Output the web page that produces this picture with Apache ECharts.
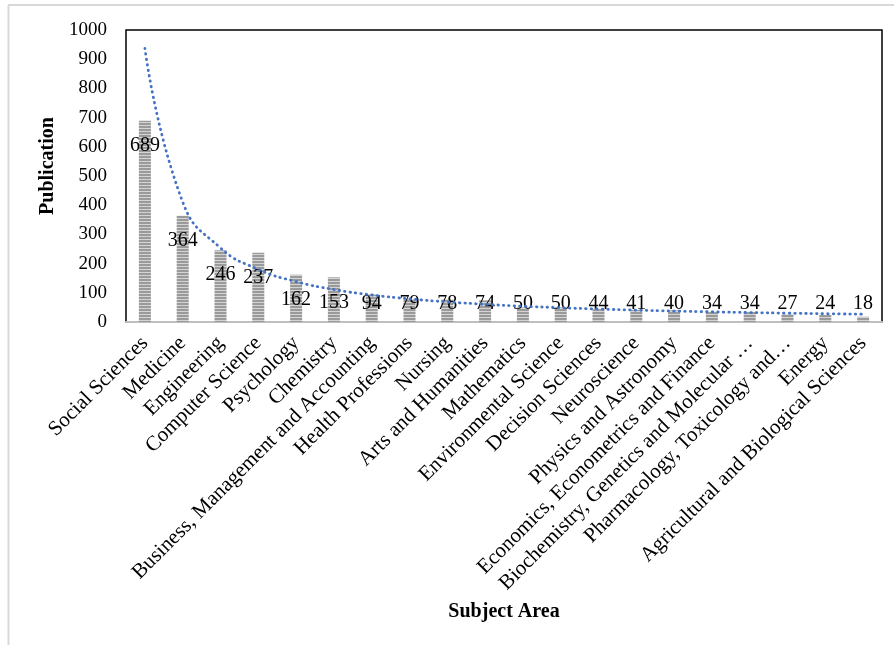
<!DOCTYPE html>
<html>
<head>
<meta charset="utf-8">
<script src="https://cdn.jsdelivr.net/npm/echarts@6/dist/echarts.min.js"></script>
<style>
  html, body { margin: 0; padding: 0; background: #ffffff; }
  #chart { width: 894px; height: 645px; }
</style>
</head>
<body>
<div id="chart"></div>
<script>
// Publications per subject area
const subjects = [
  'Social Sciences', 'Medicine', 'Engineering', 'Computer Science', 'Psychology',
  'Chemistry', 'Business, Management and Accounting', 'Health Professions', 'Nursing',
  'Arts and Humanities', 'Mathematics', 'Environmental Science', 'Decision Sciences',
  'Neuroscience', 'Physics and Astronomy', 'Economics, Econometrics and Finance',
  'Biochemistry, Genetics and Molecular …', 'Pharmacology, Toxicology and…',
  'Energy', 'Agricultural and Biological Sciences'
];
const publications = [689, 364, 246, 237, 162, 153, 94, 79, 78, 74, 50, 50, 44, 41, 40, 34, 34, 27, 24, 18];
const yTicks = [0, 100, 200, 300, 400, 500, 600, 700, 800, 900, 1000];

// Power-law trendline (least squares on ln y vs ln x), as a spreadsheet trendline does
function powerTrend(values) {
  const n = values.length;
  let sx = 0, sy = 0, sxx = 0, sxy = 0;
  values.forEach((v, i) => {
    const lx = Math.log(i + 1), ly = Math.log(v);
    sx += lx; sy += ly; sxx += lx * lx; sxy += lx * ly;
  });
  const b = (n * sxy - sx * sy) / (n * sxx - sx * sx);
  const a = Math.exp((sy - b * sx) / n);
  return values.map((v, i) => a * Math.pow(i + 1, b));
}
const trend = powerTrend(publications);

// Horizontal-stripe fill for the bars
function stripePattern() {
  const c = document.createElement('canvas');
  c.width = 4; c.height = 3;
  const g = c.getContext('2d');
  g.fillStyle = '#d4d4d4'; g.fillRect(0, 0, 4, 3);
  g.fillStyle = '#9a9a9a'; g.fillRect(0, 0, 4, 2);
  return c;
}
const barFill = { image: stripePattern(), repeat: 'repeat' };

const serif = '"Liberation Serif", "Times New Roman", serif';

// Tall bars carry their value just inside the top; short bars keep it near the axis
const barData = publications.map(v => ({
  value: v,
  label: v >= 150
    ? { position: 'insideTop', distance: 15 }
    : { position: 'insideBottom', distance: 8 }
}));

const chart = echarts.init(document.getElementById('chart'), null, { renderer: 'canvas' });
chart.setOption({
  animation: false,
  backgroundColor: '#ffffff',
  grid: {
    left: 126, right: 12, top: 30, bottom: 323,
    show: true, borderColor: '#000000', borderWidth: 1.5, backgroundColor: 'transparent'
  },
  graphic: [
    { type: 'line', shape: { x1: 8, y1: 5, x2: 894, y2: 5 }, style: { stroke: '#d9d9d9', lineWidth: 2 } },
    { type: 'line', shape: { x1: 8.5, y1: 5, x2: 8.5, y2: 645 }, style: { stroke: '#d9d9d9', lineWidth: 2 } }
  ],
  xAxis: {
    type: 'category',
    data: subjects,
    name: 'Subject Area',
    nameLocation: 'middle',
    nameGap: 280,
    nameTextStyle: { fontFamily: serif, fontWeight: 'bold', fontSize: 20, color: '#000' },
    axisLine: { show: true, lineStyle: { color: '#bfbfbf', width: 2 } },
    axisTick: { show: false },
    axisLabel: {
      interval: 0, rotate: 45, margin: 18,
      fontFamily: serif, fontSize: 21, color: '#000'
    }
  },
  yAxis: {
    type: 'value',
    min: 0, max: 1000, interval: 100,
    name: 'Publication',
    nameLocation: 'middle',
    nameGap: 66,
    nameTextStyle: { fontFamily: serif, fontWeight: 'bold', fontSize: 20, color: '#000', padding: [0, 0, 0, 20] },
    axisLine: { show: false },
    axisTick: { show: false },
    splitLine: { show: false },
    axisLabel: {
      margin: 19, fontFamily: serif, fontSize: 19, color: '#000',
      formatter: v => (yTicks.indexOf(v) >= 0 ? String(v) : '')
    }
  },
  series: [
    {
      type: 'bar',
      data: barData,
      barWidth: 12,
      itemStyle: { color: barFill },
      label: { show: true, fontFamily: serif, fontSize: 20, color: '#000' },
      z: 2
    },
    {
      type: 'line',
      data: trend,
      smooth: 0.5,
      symbol: 'none',
      lineStyle: { color: '#4472c4', width: 2.8, type: [0.5, 5], cap: 'round' },
      z: 3
    }
  ]
});
</script>
</body>
</html>
